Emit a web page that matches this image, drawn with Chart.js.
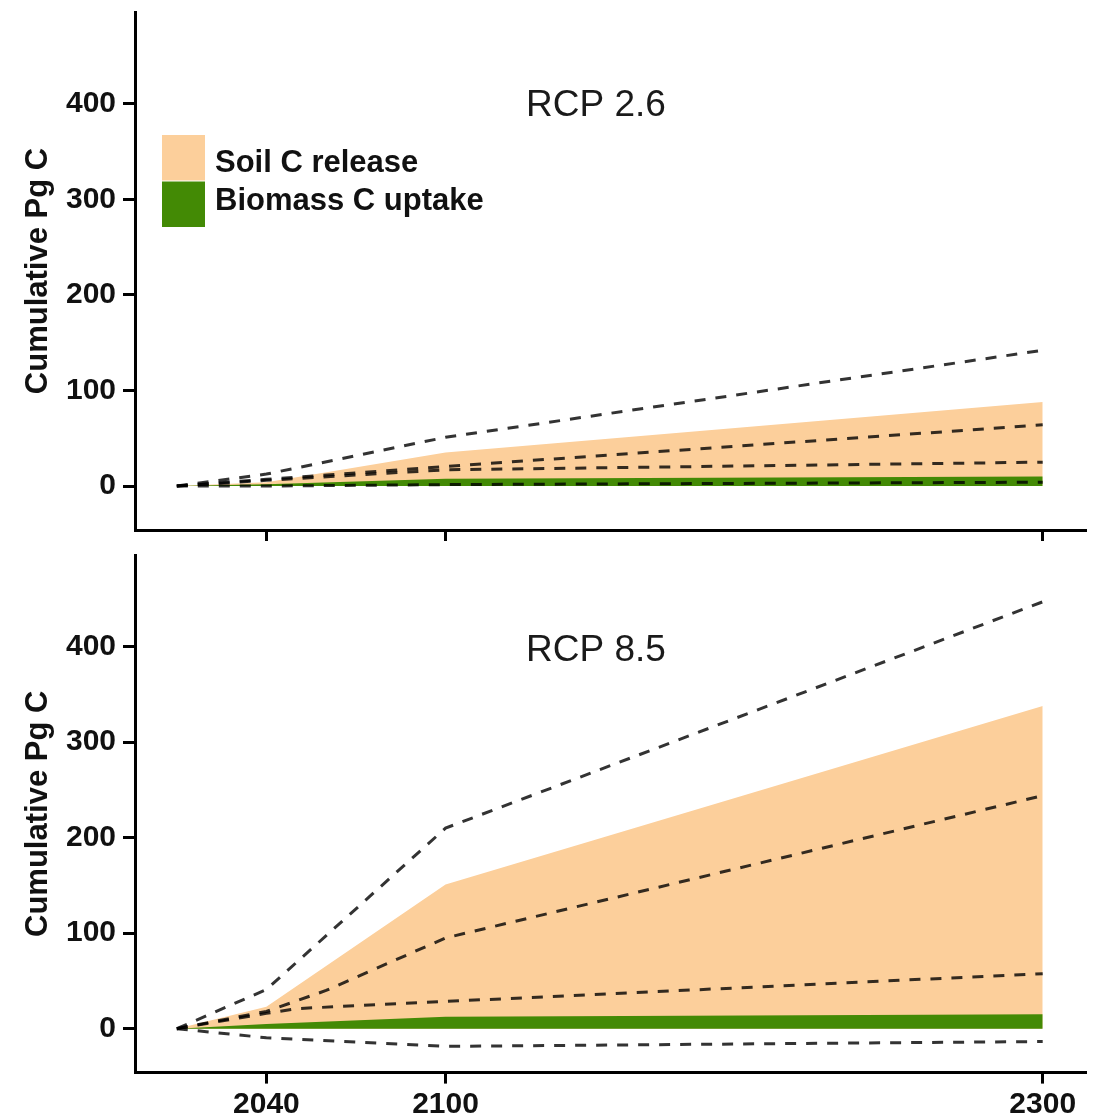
<!DOCTYPE html>
<html>
<head>
<meta charset="utf-8">
<title>Cumulative soil and biomass carbon, RCP 2.6 and RCP 8.5</title>
<script src="https://cdn.jsdelivr.net/npm/chart.js@4.4.1/dist/chart.umd.min.js"></script>
<style>
  html, body { margin: 0; padding: 0; background: #ffffff; }
  #wrap { position: relative; width: 1099px; height: 1118px; overflow: hidden; background: #ffffff; }
  #wrap canvas { position: absolute; left: 0; }
  #panelTop { top: 0; }
  #panelBottom { top: 545px; }
</style>
</head>
<body>
<div id="wrap">
  <canvas id="panelTop" width="1099" height="545"></canvas>
  <canvas id="panelBottom" width="1099" height="573"></canvas>
</div>
<script>
// ---- data -------------------------------------------------------------
const years = [2010, 2040, 2100, 2300];
const xTickYears = [2040, 2100, 2300];
const yTickValues = [0, 100, 200, 300, 400];

// RCP 2.6 (Pg C, cumulative)
const rcp26Soil    = [0, 4, 35, 88];
const rcp26Biomass = [0, 2, 7.5, 10];
const rcp26High    = [0, 12.5, 51, 142];
const rcp26Upper   = [0, 7, 20.5, 64];
const rcp26Lower   = [0, 6, 17, 25];
const rcp26Min     = [0, 0, 1.5, 4];

// RCP 8.5 (Pg C, cumulative)
const rcp85Soil        = [0, 23, 151, 338];
const rcp85Biomass     = [0, 5, 12.5, 15];
const rcp85High        = [0, 41, 210, 447];
const rcp85UpperYears  = [2010, 2040, 2060, 2100, 2300];
const rcp85Upper       = [0, 18, 40, 95, 244];
const rcp85LowerYears  = [2010, 2040, 2050, 2100, 2300];
const rcp85Lower       = [0, 16, 21, 28.5, 57.6];
const rcp85Min         = [0, -9.5, -18.5, -13.5];

const panelNames   = ['RCP 2.6', 'RCP 8.5'];
const legendLabels = ['Soil C release', 'Biomass C uptake'];
const yTitle       = 'Cumulative Pg C';

// ---- styling ----------------------------------------------------------
const SOIL_COLOR = '#FCCF9B';
const BIOMASS_COLOR = '#438A05';
const DASH_COLOR = 'rgba(0,0,0,0.8)';
const FONT = '"Liberation Sans", Arial, Helvetica, sans-serif';

const pts = (xs, ys) => xs.map((x, i) => ({ x: x, y: ys[i] }));

function dashed(xs, ys) {
  return {
    type: 'line',
    data: pts(xs, ys),
    borderColor: DASH_COLOR,
    borderWidth: 3,
    borderDash: [11, 10],
    borderCapStyle: 'butt',
    pointRadius: 0,
    fill: false,
    tension: 0,
    order: 0
  };
}

function band(xs, ys, color, order) {
  return {
    type: 'line',
    data: pts(xs, ys),
    borderWidth: 0,
    borderColor: color,
    backgroundColor: color,
    pointRadius: 0,
    fill: 'origin',
    tension: 0,
    order: order
  };
}

// panel name written inside the plot area
const panelNamePlugin = {
  id: 'panelName',
  afterDraw(chart, args, opts) {
    const ctx = chart.ctx;
    ctx.save();
    ctx.font = '37px ' + FONT;
    ctx.fillStyle = '#1a1a1a';
    ctx.textAlign = 'center';
    ctx.textBaseline = 'alphabetic';
    ctx.fillText(opts.text, 596, 116);
    ctx.restore();
  }
};

// stacked swatch legend in the upper panel
const swatchLegendPlugin = {
  id: 'swatchLegend',
  afterDraw(chart, args, opts) {
    if (!opts.show) return;
    const ctx = chart.ctx;
    ctx.save();
    ctx.fillStyle = SOIL_COLOR;
    ctx.fillRect(162, 135, 43, 45.5);
    ctx.fillStyle = BIOMASS_COLOR;
    ctx.fillRect(162, 181.5, 43, 45.5);
    ctx.font = 'bold 31px ' + FONT;
    ctx.fillStyle = '#111111';
    ctx.textAlign = 'left';
    ctx.textBaseline = 'alphabetic';
    ctx.fillText(legendLabels[0], 215, 172);
    ctx.fillText(legendLabels[1], 215, 210);
    ctx.restore();
  }
};

function makePanel(canvasId, datasets, name, showXLabels, showLegend, topPad, xAxisHeight) {
  return new Chart(document.getElementById(canvasId), {
    type: 'line',
    data: { datasets: datasets },
    plugins: [panelNamePlugin, swatchLegendPlugin],
    options: {
      responsive: false,
      animation: false,
      devicePixelRatio: 1,
      layout: { padding: { left: 0, right: 13, top: topPad, bottom: 0 } },
      plugins: {
        legend: { display: false },
        tooltip: { enabled: false },
        panelName: { text: name },
        swatchLegend: { show: showLegend }
      },
      scales: {
        x: {
          type: 'linear',
          min: 1996,
          max: 2314.5,
          afterBuildTicks: s => { s.ticks = xTickYears.map(v => ({ value: v })); },
          afterFit: s => { s.height = xAxisHeight; s.paddingLeft = 0; s.paddingRight = 0; },
          ticks: {
            display: showXLabels,
            autoSkip: false,
            maxRotation: 0,
            padding: 3,
            color: '#111111',
            font: { family: FONT, size: 30, weight: 'bold' },
            callback: v => String(v)
          },
          grid: {
            display: true,
            drawOnChartArea: false,
            drawTicks: true,
            tickLength: 11,
            tickWidth: 3,
            tickColor: '#000000'
          },
          border: { display: true, color: '#000000', width: 3 }
        },
        y: {
          type: 'linear',
          min: -46,
          max: 496,
          afterBuildTicks: s => { s.ticks = yTickValues.map(v => ({ value: v })); },
          afterFit: s => { s.width = 135; s.paddingTop = 0; s.paddingBottom = 0; },
          ticks: {
            padding: 7,
            color: '#111111',
            font: { family: FONT, size: 30, weight: 'bold' }
          },
          grid: {
            display: true,
            drawOnChartArea: false,
            drawTicks: true,
            tickLength: 12,
            tickWidth: 3,
            tickColor: '#000000'
          },
          border: { display: true, color: '#000000', width: 3 },
          title: {
            display: true,
            text: yTitle,
            color: '#111111',
            font: { family: FONT, size: 31, weight: 'bold' },
            padding: { top: 20, bottom: 0 }
          }
        }
      }
    }
  });
}

makePanel('panelTop', [
  dashed(years, rcp26High),
  dashed(years, rcp26Upper),
  dashed(years, rcp26Lower),
  dashed(years, rcp26Min),
  band(years, rcp26Biomass, BIOMASS_COLOR, 1),
  band(years, rcp26Soil, SOIL_COLOR, 2)
], panelNames[0], false, true, 12, 15);

makePanel('panelBottom', [
  dashed(years, rcp85High),
  dashed(rcp85UpperYears, rcp85Upper),
  dashed(rcp85LowerYears, rcp85Lower),
  dashed(years, rcp85Min),
  band(years, rcp85Biomass, BIOMASS_COLOR, 1),
  band(years, rcp85Soil, SOIL_COLOR, 2)
], panelNames[1], true, false, 10, 45.4);
</script>
</body>
</html>
